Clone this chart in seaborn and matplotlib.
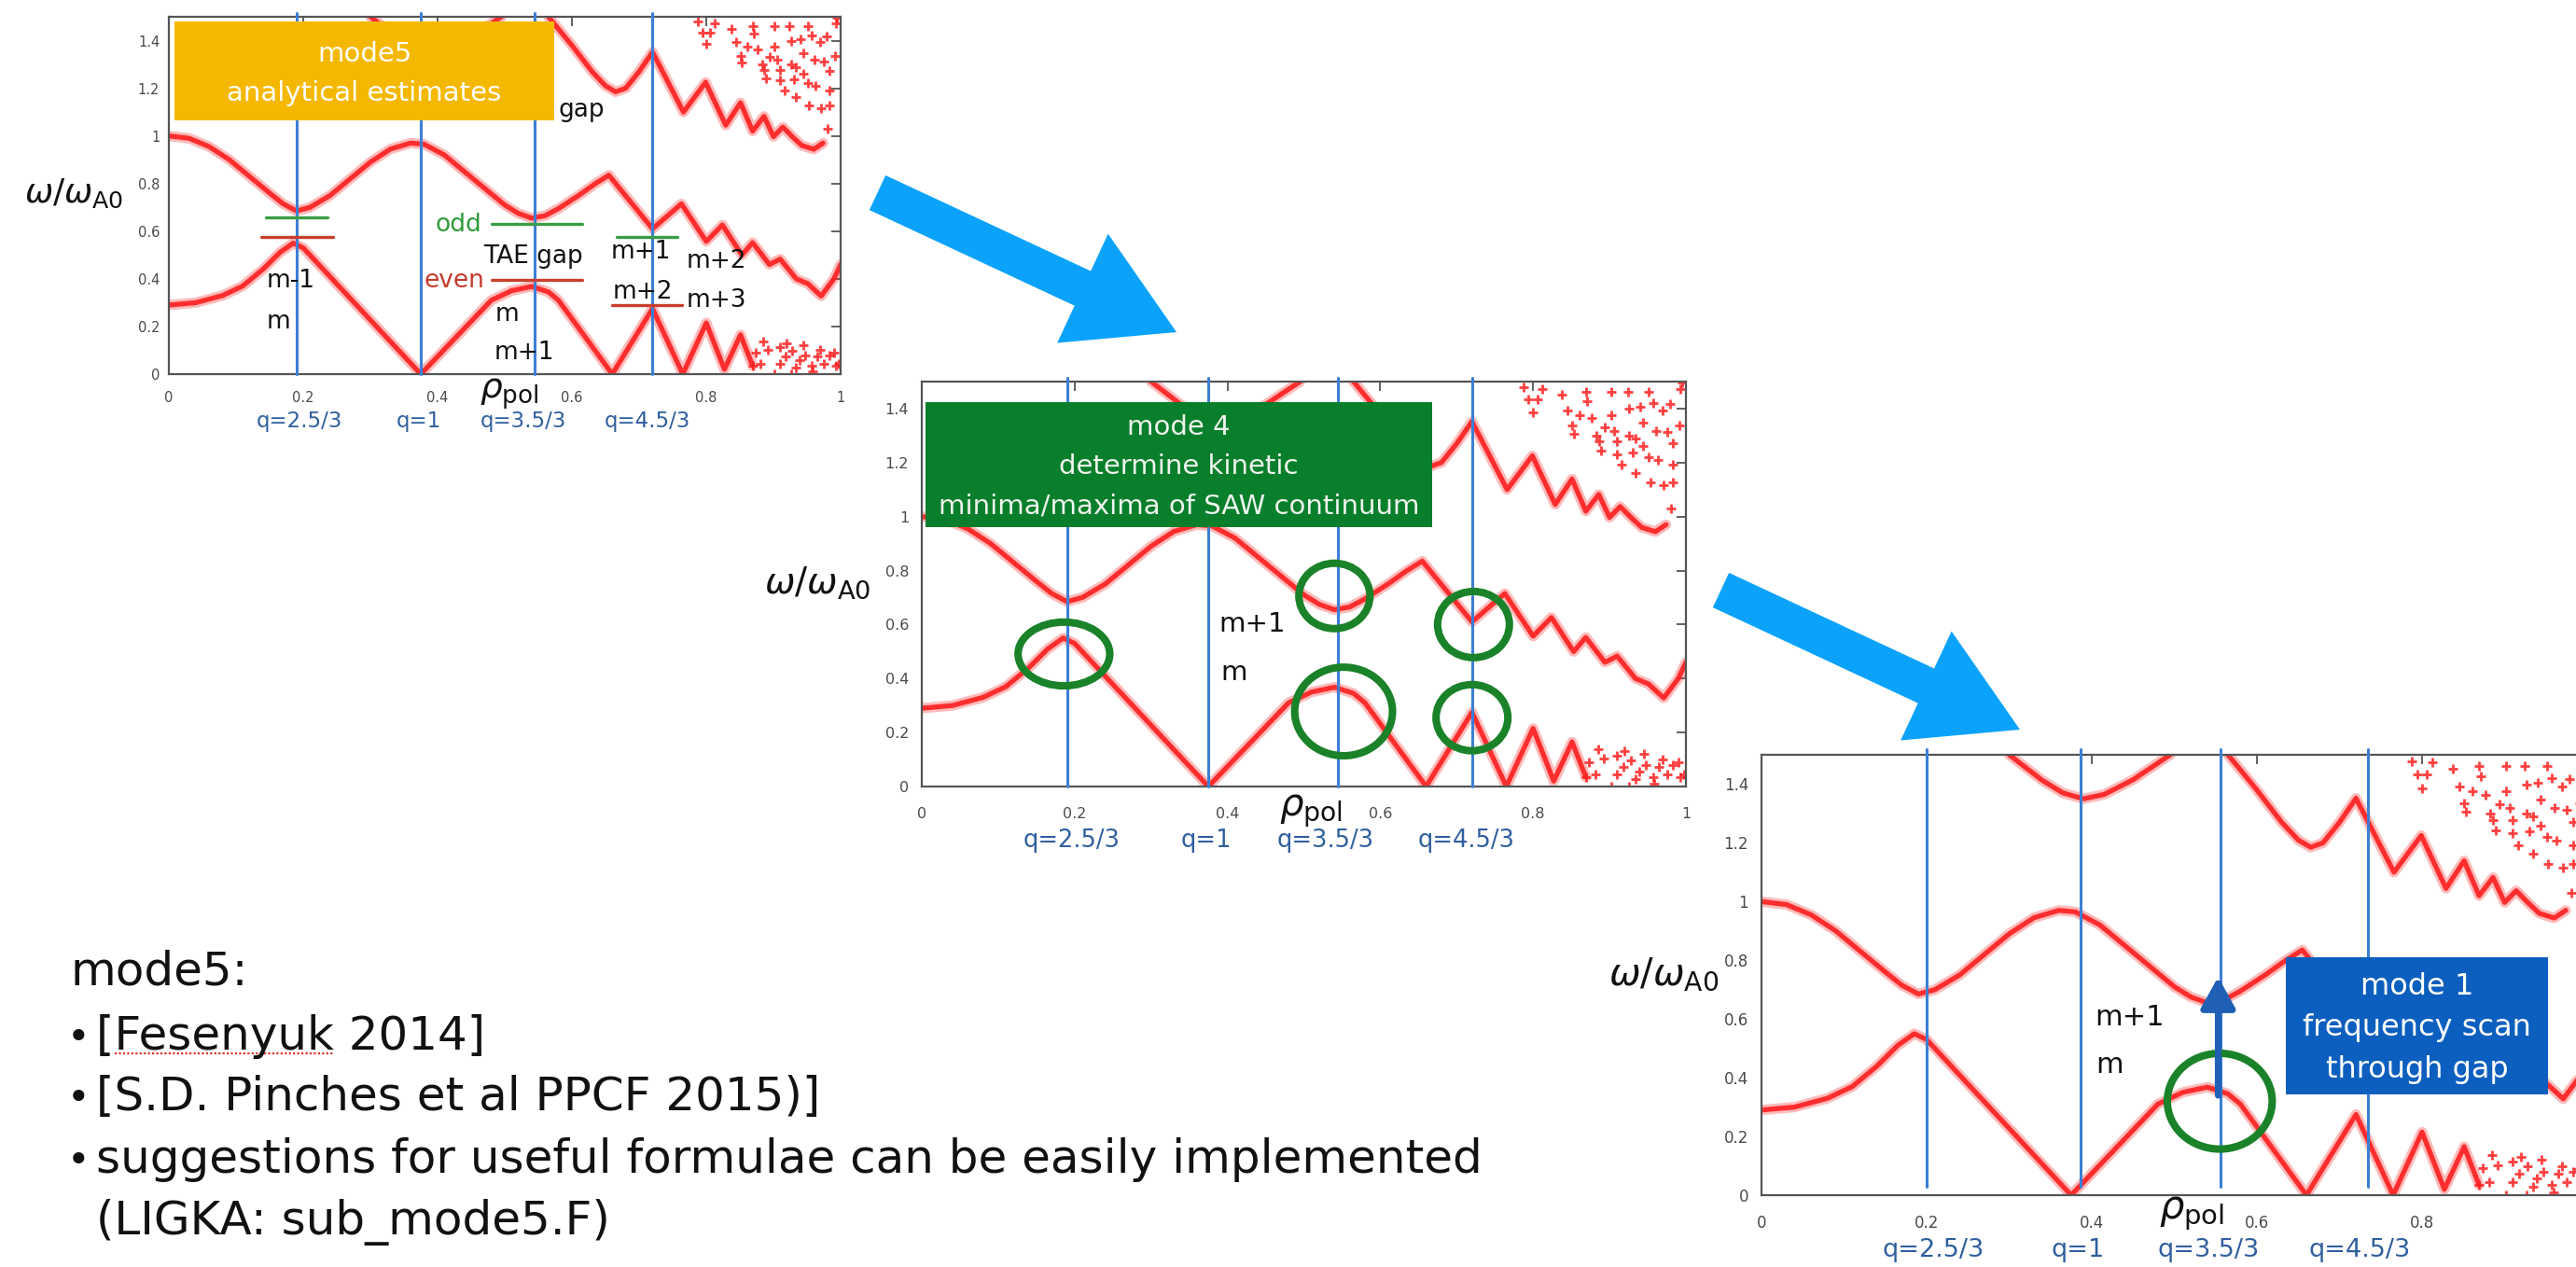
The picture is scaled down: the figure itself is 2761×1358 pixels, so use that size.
import numpy as np
import pandas as pd
import matplotlib
matplotlib.use("Agg")
import matplotlib.pyplot as plt
import seaborn as sns
from matplotlib.patches import Ellipse, Rectangle, FancyArrow
from matplotlib.transforms import Affine2D
from matplotlib.lines import Line2D

W, H, DPI = 2761, 1358, 100

# ---- shear Alfven continuum branches: rho_pol vs omega/omega_A0 ----
lower_rho = [0.0, 0.04, 0.08, 0.11, 0.14, 0.165, 0.185, 0.20, 0.375, 0.48, 0.51,
             0.54, 0.565, 0.58, 0.66, 0.72, 0.765, 0.80, 0.827, 0.851, 0.869]
lower_omega = [0.29, 0.30, 0.33, 0.37, 0.44, 0.51, 0.55, 0.53, 0.0, 0.31, 0.35,
               0.368, 0.345, 0.31, 0.0, 0.275, 0.0, 0.215, 0.02, 0.165, 0.035]

middle_rho = [0.0, 0.03, 0.06, 0.09, 0.12, 0.15, 0.17, 0.19, 0.21, 0.24, 0.27, 0.30,
              0.33, 0.36, 0.38, 0.41, 0.44, 0.47, 0.50, 0.52, 0.54, 0.56, 0.58, 0.61,
              0.635, 0.655, 0.72, 0.763, 0.80, 0.824, 0.853, 0.869, 0.894, 0.91,
              0.934, 0.951, 0.971, 0.99, 1.0]
middle_omega = [1.0, 0.99, 0.955, 0.9, 0.83, 0.76, 0.715, 0.685, 0.70, 0.75, 0.82, 0.89,
                0.945, 0.97, 0.965, 0.92, 0.85, 0.78, 0.71, 0.675, 0.655, 0.665, 0.695,
                0.75, 0.80, 0.835, 0.61, 0.715, 0.557, 0.626, 0.50, 0.552, 0.46, 0.483,
                0.40, 0.38, 0.328, 0.40, 0.46]

upperA_rho = [0.30, 0.34, 0.365, 0.39, 0.415, 0.45, 0.495]
upperA_omega = [1.5, 1.413, 1.37, 1.35, 1.365, 1.415, 1.5]

upperB_rho = [0.565, 0.60, 0.63, 0.65, 0.665, 0.68, 0.70, 0.72, 0.766, 0.799, 0.829,
              0.851, 0.869, 0.886, 0.90, 0.914, 0.928, 0.942, 0.96, 0.974]
upperB_omega = [1.5, 1.38, 1.27, 1.21, 1.185, 1.20, 1.27, 1.352, 1.10, 1.225, 1.045,
                1.139, 1.02, 1.082, 0.997, 1.037, 0.997, 0.96, 0.944, 0.97]

# scattered high-m continuum points near the edge
edge_hi_rho = [0.788, 0.794, 0.80, 0.806, 0.812, 0.837, 0.845, 0.851, 0.853, 0.861,
               0.869, 0.871, 0.877, 0.883, 0.889, 0.894, 0.902, 0.902, 0.906, 0.91,
               0.916, 0.924, 0.926, 0.926, 0.93, 0.934, 0.94, 0.944, 0.944, 0.951,
               0.951, 0.953, 0.957, 0.961, 0.963, 0.969, 0.971, 0.975, 0.979, 0.983,
               0.983, 0.991, 0.993, 0.995, 0.983, 0.886, 0.91, 0.934, 0.981]
edge_hi_omega = [1.479, 1.433, 1.387, 1.433, 1.473, 1.451, 1.393, 1.336, 1.307, 1.376,
                 1.462, 1.428, 1.364, 1.30, 1.243, 1.33, 1.462, 1.376, 1.318, 1.232,
                 1.191, 1.462, 1.399, 1.30, 1.238, 1.163, 1.405, 1.347, 1.26, 1.462,
                 1.22, 1.128, 1.422, 1.318, 1.209, 1.393, 1.117, 1.313, 1.416, 1.272,
                 1.128, 1.336, 1.473, 1.496, 1.191, 1.278, 1.278, 1.29, 1.03]
edge_lo_rho = [0.869, 0.873, 0.881, 0.885, 0.892, 0.902, 0.91, 0.91, 0.918, 0.926,
               0.928, 0.934, 0.939, 0.947, 0.957, 0.959, 0.965, 0.975, 0.983, 0.993,
               0.997, 0.99, 0.97, 0.945, 0.92]
edge_lo_omega = [0.034, 0.091, 0.045, 0.137, 0.103, 0.0, 0.114, 0.045, 0.074, 0.0,
                 0.097, 0.028, 0.057, 0.08, 0.034, 0.011, 0.074, 0.045, 0.08, 0.034,
                 0.045, 0.09, 0.10, 0.12, 0.13]

# ---- rational surfaces ----
q_labels = ["q=2.5/3", "q=1", "q=3.5/3", "q=4.5/3"]
q_rho = [0.19, 0.375, 0.544, 0.72]
q_rho_scan = [0.20, 0.387, 0.556, 0.734]
q_text_rho = [0.195, 0.372, 0.528, 0.712]
q_text_rho_scan = [0.208, 0.383, 0.541, 0.724]

# ---- analytical gap-edge estimates (rho_start, rho_end, omega) ----
odd_start = [0.144, 0.48, 0.667]
odd_end = [0.236, 0.615, 0.757]
odd_omega = [0.657, 0.629, 0.576]
even_start = [0.138, 0.48, 0.66]
even_end = [0.244, 0.615, 0.764]
even_omega = [0.576, 0.396, 0.29]

# ---- continuum extrema highlighted (centre rho, centre omega, width, height) ----
kin_rho = [0.186, 0.54, 0.552, 0.722, 0.72]
kin_omega = [0.491, 0.706, 0.278, 0.60, 0.255]
kin_w = [0.12, 0.093, 0.128, 0.094, 0.094]
kin_h = [0.236, 0.242, 0.328, 0.245, 0.245]
scan_rho, scan_omega, scan_w, scan_h = 0.555, 0.32, 0.127, 0.326
scan_from, scan_to = 0.331, 0.752

RED = "#ff1e1e"
QBLUE = "#3c7fd6"
QTEXT = "#2f5f9f"
CIRCLE = "#1a8228"

sns.set_theme(style="white")
plt.rcParams["font.family"] = ["DejaVu Sans"]
plt.rcParams["mathtext.fontset"] = "dejavusans"

fig = plt.figure(figsize=(W / DPI, H / DPI), dpi=DPI)
fig.patch.set_facecolor("white")


def axes_px(left, top, right, bottom):
    return fig.add_axes([left / W, 1 - bottom / H, (right - left) / W, (bottom - top) / H])


branches = [(lower_rho, lower_omega), (middle_rho, middle_omega),
            (upperA_rho, upperA_omega), (upperB_rho, upperB_omega)]


def draw_continuum(ax, tick_fs, xpad, ypad, hide_last_x=False):
    for rho, om in branches:
        df = pd.DataFrame({"rho": rho, "omega": om})
        sns.lineplot(data=df, x="rho", y="omega", sort=False, estimator=None, ax=ax,
                     color=RED, lw=8, alpha=0.3, zorder=2)
        sns.lineplot(data=df, x="rho", y="omega", sort=False, estimator=None, ax=ax,
                     color=RED, lw=3.8, alpha=0.9, zorder=2)
    for rho, om in [(edge_hi_rho, edge_hi_omega), (edge_lo_rho, edge_lo_omega)]:
        sns.scatterplot(x=rho, y=om, ax=ax, marker="+", s=50, linewidth=2.0,
                        color=RED, alpha=0.85, zorder=2)
    ax.set_xlim(0, 1)
    ax.set_ylim(0, 1.5)
    xt = np.round(np.arange(0, 1.01, 0.2), 1)
    ax.set_xticks(xt)
    ax.set_yticks(np.round(np.arange(0, 1.41, 0.2), 1))
    xl = [f"{v:g}" for v in xt]
    if hide_last_x:
        xl[-1] = ""
    ax.set_xticklabels(xl)
    ax.set_yticklabels([f"{v:g}" for v in ax.get_yticks()])
    ax.set_xlabel("")
    ax.set_ylabel("")
    ax.tick_params(axis="both", direction="in", length=7, width=1.3, color="#555555",
                   top=True, right=True, labelsize=tick_fs, labelcolor="#4a4a4a")
    ax.tick_params(axis="x", pad=xpad)
    ax.tick_params(axis="y", pad=ypad)
    for s in ax.spines.values():
        s.set_color("#555555")
        s.set_linewidth(1.6)
    ax.set_facecolor("white")


def draw_q_lines(ax, positions, text_positions, y0, y1, text_y, fs):
    for r, tr, lab in zip(positions, text_positions, q_labels):
        ax.plot([r, r], [y0, y1], color=QBLUE, lw=2.2, zorder=3, clip_on=False)
        ax.text(tr, text_y, lab, color=QTEXT, fontsize=fs, ha="center", va="center")


def axis_titles(ax, ylab_x, ylab_y, ylab_fs, rho_x, rho_y, rho_fs):
    ax.text(ylab_x, ylab_y, r"$\omega/\omega_{\mathrm{A0}}$", transform=ax.get_yaxis_transform(),
            ha="right", va="center", fontsize=ylab_fs, color="#111111")
    ax.text(rho_x, rho_y, r"$\rho_{\mathrm{pol}}$", ha="center", va="center",
            fontsize=rho_fs, color="#111111")


def label_box(ax, x0, x1, y0, y1, color, lines, line_y, fs, tcolor="white"):
    ax.add_patch(Rectangle((x0, y0), x1 - x0, y1 - y0, facecolor=color, edgecolor="none",
                           zorder=6, clip_on=False))
    for s, yy in zip(lines, line_y):
        ax.text((x0 + x1) / 2, yy, s, ha="center", va="center", fontsize=fs,
                color=tcolor, zorder=7)


# ---------------- panel 1: analytical estimates ----------------
ax1 = axes_px(181, 18, 901, 401)
draw_continuum(ax1, 10.5, 13, 7)
draw_q_lines(ax1, q_rho, q_text_rho, 0, 1.515, -0.199, 16.5)
axis_titles(ax1, -0.068, 0.76, 26, 0.507, -0.081, 27)
for a, b, y in zip(odd_start, odd_end, odd_omega):
    ax1.plot([a, b], [y, y], color="#3a9d45", lw=2.4, zorder=4)
for a, b, y in zip(even_start, even_end, even_omega):
    ax1.plot([a, b], [y, y], color="#c8402c", lw=2.4, zorder=4)
lab_fs = 19
for s, x, y in [("m-1", 0.181, 0.39), ("m", 0.163, 0.22), ("TAE gap", 0.542, 0.494),
                ("m", 0.503, 0.252), ("m+1", 0.529, 0.089), ("m+1", 0.703, 0.514),
                ("m+2", 0.705, 0.344), ("m+2", 0.815, 0.475), ("m+3", 0.815, 0.311)]:
    ax1.text(x, y, s, ha="center", va="center", fontsize=lab_fs, color="#111111", zorder=5)
ax1.text(0.466, 0.625, "odd", ha="right", va="center", fontsize=lab_fs, color="#2e9a3a", zorder=5)
ax1.text(0.47, 0.39, "even", ha="right", va="center", fontsize=lab_fs, color="#c43a2a", zorder=5)
ax1.text(0.58, 1.11, "gap", ha="left", va="center", fontsize=lab_fs, color="#111111", zorder=5)
label_box(ax1, 0.008, 0.574, 1.065, 1.48, "#f5b800", ["mode5", "analytical estimates"],
          [1.343, 1.179], 21)

# ---------------- panel 2: kinetic extrema ----------------
ax2 = axes_px(988, 409, 1807, 843)
draw_continuum(ax2, 11.5, 16, 10)
draw_q_lines(ax2, q_rho, [0.196, 0.372, 0.528, 0.712], 0, 1.515, -0.199, 18.5)
axis_titles(ax2, -0.067, 0.755, 28, 0.509, -0.09, 29)
for r, o, w, h in zip(kin_rho, kin_omega, kin_w, kin_h):
    ax2.add_patch(Ellipse((r, o), w, h, fill=False, edgecolor=CIRCLE, lw=5.8, zorder=5))
ax2.text(0.433, 0.60, "m+1", ha="center", va="center", fontsize=21, color="#111111", zorder=5)
ax2.text(0.409, 0.42, "m", ha="center", va="center", fontsize=21, color="#111111", zorder=5)
label_box(ax2, 0.005, 0.668, 0.961, 1.424, "#0a7f2b",
          ["mode 4", "determine kinetic", "minima/maxima of SAW continuum"],
          [1.331, 1.186, 1.04], 21, tcolor="#eef4ee")

# ---------------- panel 3: frequency scan ----------------
ax3 = axes_px(1888, 809, 2773, 1281)
draw_continuum(ax3, 12, 15, 10, hide_last_x=True)
draw_q_lines(ax3, q_rho_scan, q_text_rho_scan, 0.03, 1.52, -0.189, 19.5)
axis_titles(ax3, -0.052, 0.752, 29, 0.521, -0.061, 30)
ax3.add_patch(Ellipse((scan_rho, scan_omega), scan_w, scan_h, fill=False,
                      edgecolor=CIRCLE, lw=5.8, zorder=5))
ax3.annotate("", xy=(0.553, scan_to), xytext=(0.553, scan_from),
             arrowprops=dict(arrowstyle="-|>,head_length=0.45,head_width=0.25",
                             color="#1f5fb5", lw=5, mutation_scale=45), zorder=6)
ax3.text(0.446, 0.606, "m+1", ha="center", va="center", fontsize=22, color="#111111", zorder=5)
ax3.text(0.421, 0.442, "m", ha="center", va="center", fontsize=22, color="#111111", zorder=5)
label_box(ax3, 0.635, 0.953, 0.343, 0.81, "#0c5fbe",
          ["mode 1", "frequency scan", "through gap"], [0.709, 0.569, 0.429], 23)

# ---------------- workflow arrows (pixel frame, origin top-left) ----------------
pix = Affine2D().scale(1.0 / W, -1.0 / H).translate(0, 1) + fig.transFigure
for tx, ty in [(940.5, 206.5), (1844.5, 632.5)]:
    fig.add_artist(FancyArrow(tx, ty, 320.5, 149.5, width=41, head_width=129,
                              head_length=111, length_includes_head=True,
                              transform=pix, facecolor="#0aa2fa", edgecolor="none",
                              zorder=8))

# ---------------- notes ----------------
note_fs = 36
fig.text(75 / W, 1 - 1055 / H, "mode5:", fontsize=note_fs, va="baseline", color="#111111")
bullets = ["[Fesenyuk 2014]", "[S.D. Pinches et al PPCF 2015)]",
           "suggestions for useful formulae can be easily implemented"]
for s, yb in zip(bullets, [1125, 1190, 1257]):
    fig.text(72 / W, 1 - yb / H, "\u2022", fontsize=note_fs - 6, va="baseline", color="#111111")
    fig.text(103 / W, 1 - yb / H, s, fontsize=note_fs, va="baseline", color="#111111")
fig.text(103 / W, 1 - 1323 / H, "(LIGKA: sub_mode5.F)", fontsize=note_fs, va="baseline",
         color="#111111")

# dotted spell-check underline beneath the author name
r = fig.canvas.get_renderer()
t_a = fig.text(103 / W, 1 - 1125 / H, "[", fontsize=note_fs, va="baseline", alpha=0)
t_b = fig.text(103 / W, 1 - 1125 / H, "[Fesenyuk", fontsize=note_fs, va="baseline", alpha=0)
ux0 = t_a.get_window_extent(r).x1
ux1 = t_b.get_window_extent(r).x1
t_a.remove()
t_b.remove()
fig.add_artist(Line2D([ux0 / W, ux1 / W], [1 - 1129 / H, 1 - 1129 / H], color="#e03030",
                      lw=1.6, ls=(0, (1, 1)), transform=fig.transFigure))

fig.savefig("out.png", dpi=DPI, facecolor="white")
